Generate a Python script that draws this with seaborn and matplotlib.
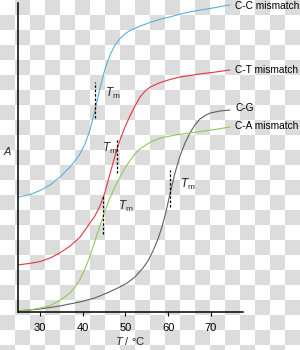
import numpy as np
import pandas as pd
import matplotlib
matplotlib.use('Agg')
import matplotlib.pyplot as plt
from matplotlib.colors import ListedColormap
import seaborn as sns

# melting curves (T in degC, A in relative units)
cc_t = [24.85, 27.66, 30.0, 32.34, 34.68, 35.85, 37.03, 38.20, 39.37, 40.54, 41.71,
        42.88, 44.05, 45.22, 46.39, 47.56, 48.74, 49.91, 51.08, 53.42, 55.76,
        58.10, 60.44, 63.96, 67.47, 70.98, 74.50]
cc_a = [0.371, 0.379, 0.392, 0.410, 0.436, 0.452, 0.468, 0.488, 0.511, 0.543, 0.588,
        0.653, 0.724, 0.786, 0.831, 0.864, 0.885, 0.900, 0.911, 0.925, 0.937,
        0.947, 0.955, 0.968, 0.977, 0.985, 0.994]

ct_t = [24.85, 27.66, 30.0, 32.34, 34.68, 37.03, 39.37, 40.54, 41.71, 42.88, 44.05,
        45.22, 46.39, 47.56, 48.74, 49.91, 51.08, 52.25, 53.42, 54.59, 55.76,
        58.10, 60.44, 62.79, 67.47, 70.98, 74.50]
ct_a = [0.151, 0.156, 0.162, 0.173, 0.190, 0.212, 0.241, 0.264, 0.287, 0.310, 0.342,
        0.387, 0.446, 0.504, 0.556, 0.598, 0.634, 0.666, 0.695, 0.714, 0.727,
        0.742, 0.752, 0.760, 0.770, 0.776, 0.783]

ca_t = [24.85, 27.66, 30.0, 32.34, 34.68, 37.03, 38.20, 39.37, 40.54, 41.71, 42.88,
        44.05, 45.22, 46.39, 47.56, 48.74, 49.91, 51.08, 52.25, 53.42, 54.59,
        55.76, 58.10, 61.62, 66.77, 70.98, 74.50]
ca_a = [0.002, 0.005, 0.011, 0.019, 0.036, 0.060, 0.079, 0.104, 0.138, 0.180, 0.229,
        0.277, 0.326, 0.368, 0.404, 0.436, 0.465, 0.489, 0.511, 0.527, 0.538,
        0.548, 0.562, 0.572, 0.582, 0.590, 0.598]

cg_t = [24.85, 30.0, 34.68, 39.37, 42.88, 45.69, 48.03, 50.37, 52.25, 54.12, 55.29,
        56.46, 57.63, 58.57, 59.51, 60.44, 61.62, 62.79, 63.96, 65.13, 66.30,
        67.47, 68.64, 69.81, 72.15, 74.50]
cg_a = [0.002, 0.008, 0.018, 0.031, 0.044, 0.060, 0.075, 0.092, 0.112, 0.141, 0.164,
        0.196, 0.235, 0.274, 0.323, 0.381, 0.449, 0.504, 0.546, 0.579, 0.605,
        0.624, 0.635, 0.643, 0.650, 0.653]

curve_names = ['C-C mismatch', 'C-T mismatch', 'C-G', 'C-A mismatch']
label_y = [0.990, 0.783, 0.660, 0.601]

# Tm markers: x, y bottom, y top, label x, label y
tm_x = [42.9, 48.0, 44.75, 60.4]
tm_y0 = [0.627, 0.449, 0.251, 0.339]
tm_y1 = [0.744, 0.562, 0.374, 0.459]
tm_lx = [45.2, 44.5, 48.3, 62.8]
tm_ly = [0.708, 0.530, 0.339, 0.413]

x_ticks = [30, 40, 50, 60, 70]

colors = ['#5aaee0', '#e53540', '#606060', '#90c956']

sns.set_theme(style='white')
plt.rcParams['font.family'] = ['Liberation Sans', 'DejaVu Sans']
plt.rcParams['mathtext.fontset'] = 'custom'
plt.rcParams['mathtext.rm'] = 'Liberation Sans'
plt.rcParams['mathtext.it'] = 'Liberation Sans:italic'

fig = plt.figure(figsize=(3.0, 3.5), dpi=100)

# checkerboard background (transparent png look)
bg = fig.add_axes([0, 0, 1, 1], zorder=-5)
ii, jj = np.indices((24, 20))
bg.imshow((ii + jj) % 2, cmap=ListedColormap(['white', '#dcdcdc']),
          extent=(0, 300, 360, 0), interpolation='nearest', aspect='auto')
bg.set_xlim(0, 300)
bg.set_ylim(350, 0)
bg.axis('off')

ax = fig.add_axes([0.06, 0.11, 0.75, 0.8814])
ax.set_facecolor('none')

curves = [(cc_t, cc_a), (ct_t, ct_a), (cg_t, cg_a), (ca_t, ca_a)]
for (t, a), c, name, ly in zip(curves, colors, curve_names, label_y):
    df = pd.DataFrame({'T': t, 'A': a})
    sns.lineplot(data=df, x='T', y='A', color=c, linewidth=0.8, ax=ax)
    ax.text(75.7, ly, name, fontsize=7.3, ha='left', va='center', color='black')

for x, y0, y1, lx, ly in zip(tm_x, tm_y0, tm_y1, tm_lx, tm_ly):
    ax.plot([x, x], [y0, y1], color='black', linewidth=0.9, linestyle=(0, (2, 1.5)))
    ax.text(lx, ly, r'$T_\mathrm{m}$', fontsize=8.5, ha='left', va='center')

ax.set_xlim(24.85, 77.55)
ax.set_ylim(0, 1)
ax.set_xticks(x_ticks)
ax.set_xticklabels([str(v) for v in x_ticks])
ax.set_yticks([])
ax.tick_params(axis='x', direction='out', length=3, width=0.8, labelsize=8,
               pad=5, bottom=True, colors='black')

for side in ['top', 'right']:
    ax.spines[side].set_visible(False)
for side in ['left', 'bottom']:
    ax.spines[side].set_color('black')
    ax.spines[side].set_linewidth(1.1)

ax.set_xlabel(r'$T$ / °C', fontsize=8, labelpad=2)
ax.set_ylabel(r'$A$', fontsize=8, rotation=0)
ax.yaxis.set_label_coords(-0.045, 0.5)

fig.savefig('out.png', dpi=100)
